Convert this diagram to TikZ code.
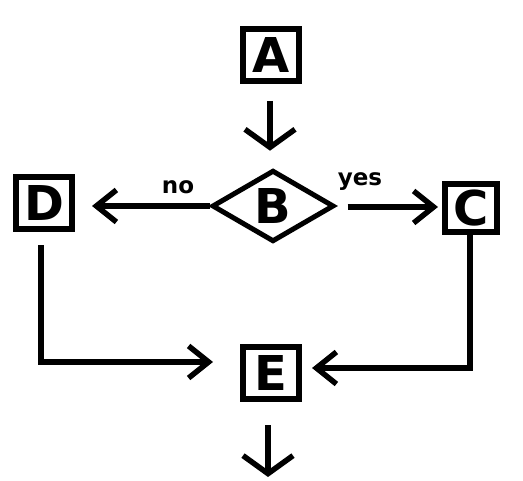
\documentclass[tikz,border=0pt]{standalone}
\usepackage{fontspec}
\newfontfamily\diafont{DejaVu Sans}
\usetikzlibrary{shapes.geometric,arrows.meta}
\tikzset{
  box/.style={draw=black, line width=6pt, fill=white, minimum width=56pt, minimum height=52pt, inner sep=0pt, font=\diafont\bfseries\fontsize{48}{48}\selectfont},
  dia/.style={diamond, draw=black, line width=5pt, minimum width=122pt, minimum height=67pt, inner sep=0pt, font=\diafont\bfseries\fontsize{48}{48}\selectfont},
  conn/.style={line width=5.5pt},
  varr/.style={conn, -{Straight Barb[length=18pt,width=50pt]}},
  harr/.style={conn, -{Straight Barb[length=20pt,width=32pt]}},
  lbl/.style={font=\diafont\bfseries\fontsize{23}{23}\selectfont, inner sep=0pt}
}
\begin{document}
\begin{tikzpicture}[x=1pt,y=-1pt]
\useasboundingbox (0,0) rectangle (523,481);
\node[box] (A) at (271,55) {A};
\node[dia] (B) at (273,206) {B};
\node[box] (D) at (44,203.5) {D};
\node[box, minimum width=52pt, minimum height=48pt] (C) at (471,208.5) {C};
\node[box] (E) at (271,373.5) {E};
\node[lbl] (no) at (178,187) {no};
\node[lbl] (yes) at (360,182) {yes};
\coordinate (Eout) at (268,477);
% A -> B
\draw[varr, shorten <=17pt, shorten >=17pt] ([xshift=-1pt]A.south) -- ([xshift=-1pt]A.south |- B.north);
% B -> D
\draw[harr, shorten >=17pt] (B.west) -- (B.west -| D.east);
% B -> C
\draw[harr, shorten <=11pt, shorten >=4pt] ([yshift=-1pt]B.east) -- ([yshift=-1pt]B.east -| C.west);
% D -> E
\draw[harr, shorten <=13pt, shorten >=27pt] ([xshift=-3pt]D.south) |- ([yshift=11.5pt]E.west);
% C -> E
\draw[harr, shorten >=10pt] ([xshift=-1pt]C.south) |- ([yshift=5.5pt]E.east);
% E -> out
\draw[varr, shorten <=23pt] ([xshift=-3pt]E.south) -- (Eout);
\end{tikzpicture}
\end{document}
